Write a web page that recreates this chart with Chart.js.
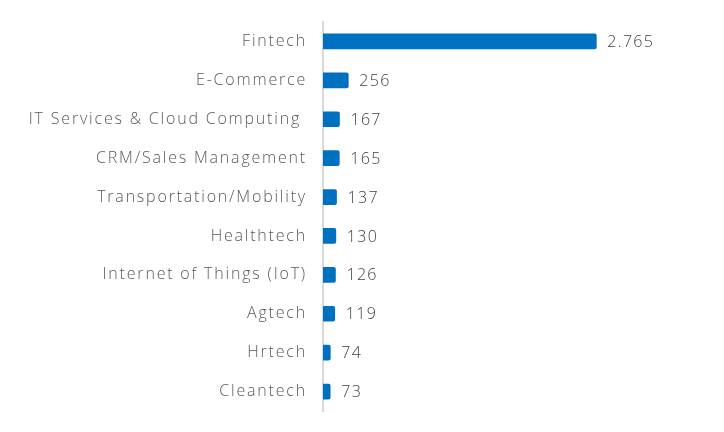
<!DOCTYPE html>
<html>
<head>
<meta charset="utf-8">
<script src="https://cdn.jsdelivr.net/npm/chart.js@4/dist/chart.umd.min.js"></script>
<style>
html,body{margin:0;padding:0;background:#fff;}
#wrap{width:724px;height:432px;position:relative;}
</style>
</head>
<body>
<div id="wrap"><canvas id="c"></canvas></div>
<script>
const categories = ["Fintech","E-Commerce","IT Services & Cloud Computing ","CRM/Sales Management","Transportation/Mobility","Healthtech","Internet of Things (IoT)","Agtech","Hrtech","Cleantech"];
const values = [2765,256,167,165,137,130,126,119,74,73];
const valueLabels = ["2.765","256","167","165","137","130","126","119","74","73"];

const FONT = "'Open Sans', sans-serif";

const spacingPlugin = {
  id: 'spacing',
  beforeDraw(chart) { chart.ctx.letterSpacing = '1.8px'; }
};

const valuePlugin = {
  id: 'valueLabels',
  afterDatasetsDraw(chart) {
    const ctx = chart.ctx;
    const meta = chart.getDatasetMeta(0);
    ctx.save();
    ctx.letterSpacing = '1.3px';
    ctx.font = "300 16px " + FONT;
    ctx.fillStyle = "#404040";
    ctx.textAlign = "left";
    ctx.textBaseline = "middle";
    meta.data.forEach((bar, i) => {
      ctx.fillText(valueLabels[i], bar.x + 11, bar.y + 1);
    });
    ctx.restore();
  }
};

new Chart(document.getElementById('c'), {
  type: 'bar',
  data: {
    labels: categories,
    datasets: [{
      data: values,
      backgroundColor: '#0070C0',
      borderRadius: 2,
      borderSkipped: 'start',
      barThickness: 15
    }]
  },
  options: {
    indexAxis: 'y',
    responsive: true,
    maintainAspectRatio: false,
    animation: false,
    layout: { padding: { top: 22, bottom: 21, left: 0, right: 55 } },
    plugins: { legend: { display: false }, tooltip: { enabled: false } },
    scales: {
      x: { display: false, min: 0, max: 3500 },
      y: {
        afterFit(s) { s.width = 323; s.paddingTop = 0; s.paddingBottom = 0; },
        grid: { display: false, drawTicks: false },
        border: { display: true, color: '#d9d9d9', width: 2 },
        ticks: { color: '#595959', font: { family: FONT, size: 16, weight: 300 }, padding: 16 }
      }
    }
  },
  plugins: [spacingPlugin, valuePlugin]
});
</script>
</body>
</html>
